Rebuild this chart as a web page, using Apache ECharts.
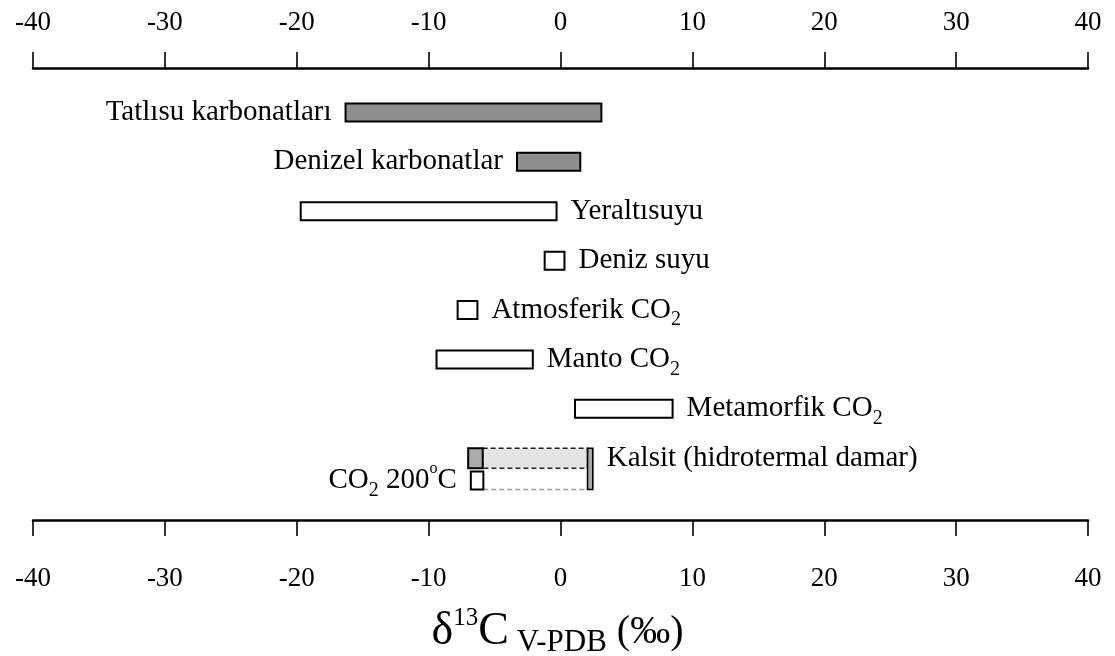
<!DOCTYPE html>
<html><head><meta charset="utf-8">
<script src="https://cdn.jsdelivr.net/npm/echarts@6/dist/echarts.min.js"></script>
<style>html,body{margin:0;padding:0;background:#fff}#c{width:1115px;height:656px}</style>
</head><body><div id="c"></div>
<script>
// ---- data ----
const labels = ['Tatlısu karbonatları', 'Denizel karbonatlar', 'Yeraltısuyu', 'Deniz suyu',
  'Atmosferik CO{sub|2}', 'Manto CO{sub|2}', 'Metamorfik CO{sub|2}',
  'Kalsit (hidrotermal damar)', 'CO{sub|2} 200{sup|o}C'];
const lows  = [-16.3, -3.3, -19.7, -1.2, -7.8, -9.4, 1.1, -7.0, -6.8];
const highs = [  3.1,  1.5,  -0.3,  0.3, -6.3, -2.1, 8.5, -5.9, -5.85];
const rows  = [0, 1, 2, 3, 4, 5, 6, 7, 7.45];
const fills = ['dark', 'dark', 'white', 'white', 'white', 'white', 'white', 'light', 'white'];
const sides = ['left', 'left', 'right', 'right', 'right', 'right', 'right', 'right', 'left'];
// dashed extension of the hydrothermal calcite / CO2 200°C ranges
const extEnd = [null, null, null, null, null, null, null, 2.05, 2.05];
// narrow end bar shared by the two last rows: [x0, x1, rowTop, rowBottom]
const endBar = [[2.05, 2.45, 7, 7.45]];
const tickMin = -40, tickMax = 40, tickStep = 10;

// ---- style ----
const FONT = '"Liberation Serif","Times New Roman",serif';
const FILL = { dark: '#8e8e8e', light: '#ababab', white: '#ffffff' };
const LABEL_FS = 29;
const richLbl = {
  sub: { fontSize: 20, lineHeight: 16, verticalAlign: 'bottom', fontFamily: FONT, color: '#000' },
  sup: { fontSize: 16, lineHeight: 28, verticalAlign: 'top', fontFamily: FONT, color: '#000' }
};

function renderRange(params, api) {
  const i = params.dataIndex;
  const y = api.coord([0, api.value(2)])[1];
  const x0 = api.coord([api.value(0), 0])[0];
  const x1 = api.coord([api.value(1), 0])[0];
  const h = i === 7 ? 20 : 18;
  const children = [];
  let xe = null;
  if (extEnd[i] != null) {
    xe = api.coord([extEnd[i], 0])[0];
    if (i === 7) {
      children.push({ type: 'rect', shape: { x: x1, y: y - h / 2, width: xe - x1, height: h },
        style: { fill: '#e4e4e4', stroke: '#222', lineWidth: 1.5, lineDash: [5, 3] } });
    } else {
      children.push({ type: 'line', shape: { x1: x1, y1: y + h / 2, x2: xe, y2: y + h / 2 },
        style: { stroke: '#9a9a9a', lineWidth: 1.3, lineDash: [5, 3] } });
    }
  }
  children.push({ type: 'rect', shape: { x: x0, y: y - h / 2, width: x1 - x0, height: h },
    style: { fill: FILL[fills[i]], stroke: '#000', lineWidth: 2 } });
  const left = sides[i] === 'left';
  let tx;
  if (left) tx = x0 - 14;
  else if (xe != null) tx = api.coord([endBar[0][1], 0])[0] + 14;
  else tx = x1 + 14;
  children.push({ type: 'text', style: {
    text: labels[i], x: tx, y: y, align: left ? 'right' : 'left', verticalAlign: 'middle',
    fontSize: LABEL_FS, fontFamily: FONT, fill: '#000', lineHeight: 40, rich: richLbl } });
  return { type: 'group', children };
}

function renderEnd(params, api) {
  const a = api.coord([api.value(0), api.value(2)]);
  const b = api.coord([api.value(1), api.value(3)]);
  return { type: 'rect', shape: { x: a[0], y: a[1] - 10, width: b[0] - a[0], height: b[1] - a[1] + 19 },
    style: { fill: '#a8a8a8', stroke: '#000', lineWidth: 1.6 } };
}

const axisCommon = {
  type: 'value', min: tickMin, max: tickMax, interval: tickStep,
  axisLine: { show: true, onZero: false, lineStyle: { color: '#000', width: 2.5 } },
  axisTick: { show: true, length: 16, lineStyle: { color: '#000', width: 1.6 } },
  splitLine: { show: false },
};
const titleRich = (fs, lh, va) => ({ fontSize: fs, lineHeight: lh, verticalAlign: va,
  fontFamily: FONT, fontWeight: 'normal', color: '#000' });

const chart = echarts.init(document.getElementById('c'), null, { renderer: 'canvas' });
chart.setOption({
  animation: false,
  backgroundColor: '#fff',
  grid: { left: 33, right: 27, top: 68, bottom: 136 },
  title: {
    text: '{d|δ}{sup|13}{c|C}{sub| V-PDB}{p| (‰)}',
    left: 'center', top: 601,
    textStyle: { fontWeight: 'normal', rich: {
      d: titleRich(46, 52, 'middle'),
      sup: titleRich(25, 26, 'top'),
      c: titleRich(46, 52, 'middle'),
      sub: titleRich(31, 32, 'bottom'),
      p: titleRich(40, 52, 'middle')
    } }
  },
  xAxis: [
    Object.assign({}, axisCommon, { position: 'top',
      axisLabel: { margin: 32, fontSize: 27, fontFamily: FONT, color: '#000' } }),
    Object.assign({}, axisCommon, { position: 'bottom',
      axisLabel: { margin: 45, fontSize: 27, fontFamily: FONT, color: '#000' } })
  ],
  yAxis: { type: 'value', min: -0.9, max: 8.25, inverse: true, show: false },
  series: [
    { type: 'custom', xAxisIndex: 1, yAxisIndex: 0, clip: false, renderItem: renderRange,
      encode: { x: [0, 1], y: 2 },
      data: lows.map((v, i) => [v, highs[i], rows[i]]) },
    { type: 'custom', xAxisIndex: 1, yAxisIndex: 0, clip: false, renderItem: renderEnd,
      encode: { x: [0, 1], y: [2, 3] }, data: endBar, z: 3 }
  ]
});
</script></body></html>
